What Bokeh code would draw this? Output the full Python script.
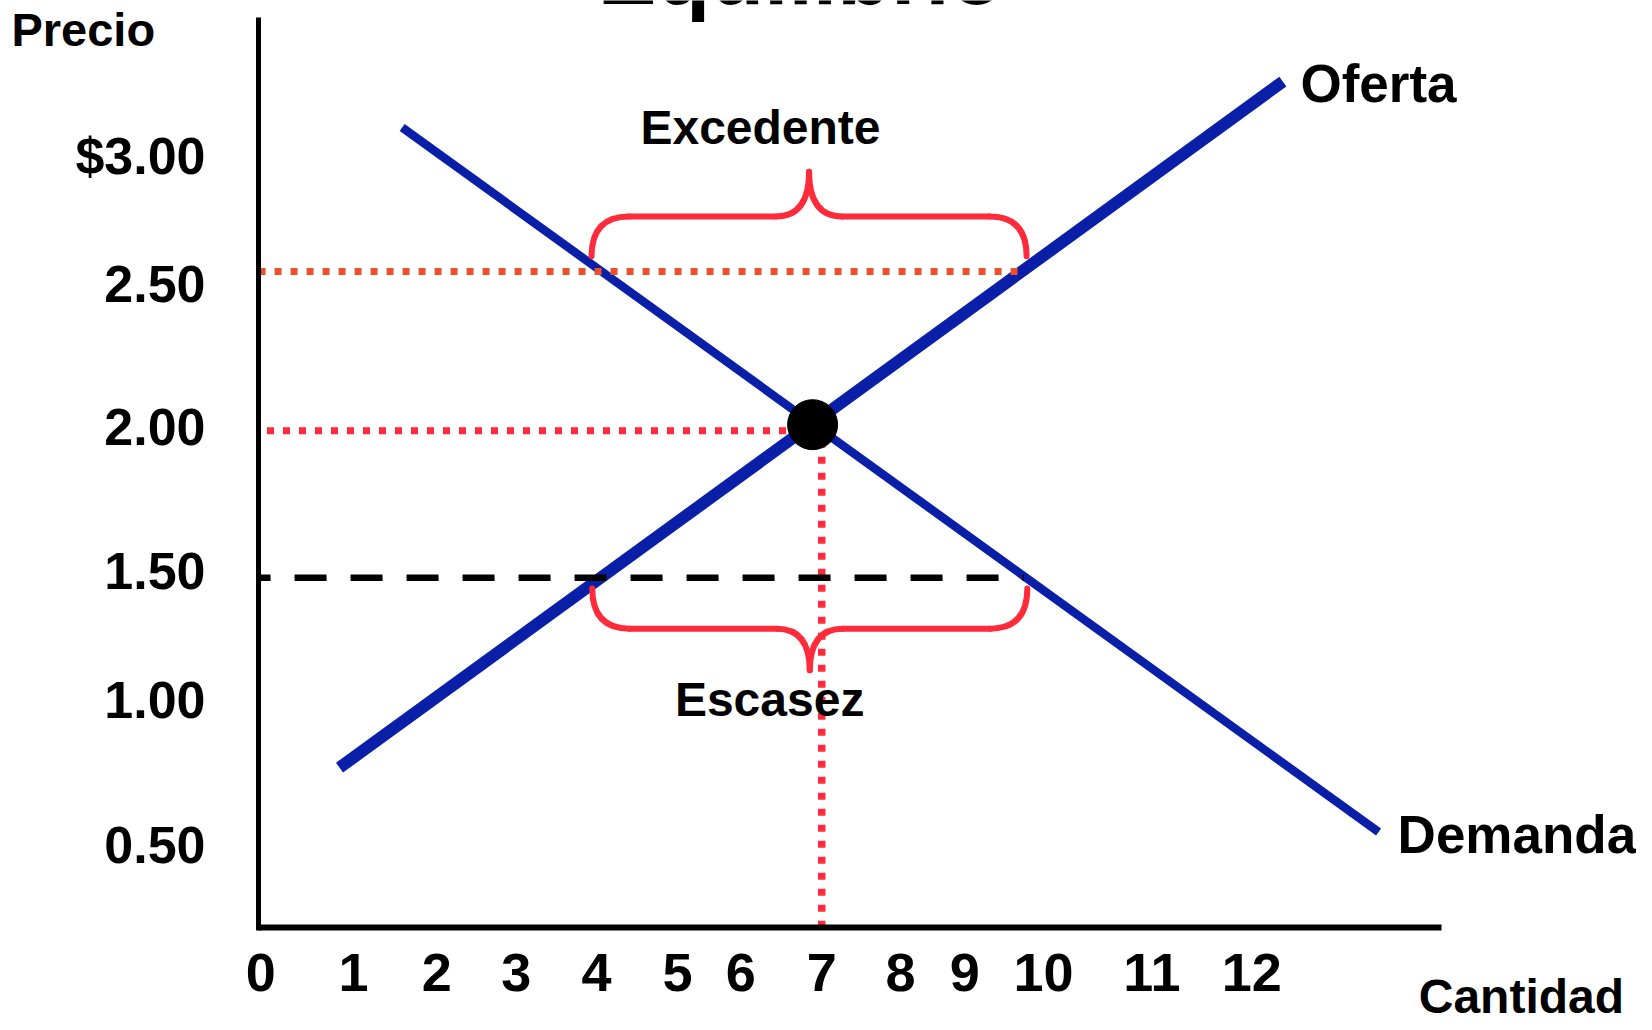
from bokeh.plotting import figure
from bokeh.models import LinearAxis, FixedTicker, Label, CustomJSTickFormatter, ColumnDataSource
from bokeh.embed import file_html
from bokeh.resources import INLINE

# ---------------- data ----------------
title_text = "Equilibrio"

supply_q = [0.28, 13.68]      # Oferta
supply_p = [0.88, 3.12]
demand_q = [1.17, 15.04]      # Demanda
demand_p = [2.97, 0.67]

eq_q = [7]
eq_p = [2.00]

surplus_price = 2.50
surplus_line_q = [-0.87, 10.0]
eq_guide_p = 1.98             # horizontal dotted guide as drawn
eq_guide_q = 7.13             # vertical dotted guide as drawn
eq_line_q = [-0.75, 7.0]
shortage_price = 1.50
shortage_line_q = [-0.87, 10.0]

# braces: [left q, right q, base p, middle p, tip p]
brace_excedente = [3.86, 10.04, 2.55, 2.68, 2.826]
brace_escasez = [3.87, 10.05, 1.465, 1.334, 1.198]

x_tick_labels = ["0", "1", "2", "3", "4", "5", "6", "7", "8", "9", "10", "11", "12"]
x_tick_pos = [-0.84, 0.48, 1.66, 2.79, 3.93, 5.08, 5.98, 7.13, 8.25, 9.16, 10.28, 11.82, 13.24]
y_tick_labels = ["$3.00", "2.50", "2.00", "1.50", "1.00", "0.50"]
y_tick_pos = [2.877, 2.459, 1.991, 1.521, 1.100, 0.629]

axis_q = [-0.87, 15.94]   # x axis extent, y axis location at first value
axis_p = [0.358, 3.33]    # y axis extent, x axis location at first value

# annotation texts: (text, q, p, align, size)
texts = [
    ("Precio", -4.38, 3.289, "left", "47px"),
    ("Excedente", 6.26, 2.969, "center", "48px"),
    ("Escasez", 6.39, 1.103, "center", "48px"),
    ("Oferta", 13.93, 3.113, "left", "53px"),
    ("Demanda", 15.31, 0.662, "left", "53px"),
    ("Cantidad", 15.61, 0.134, "left", "48px"),
]

FONT = "Liberation Sans"
BLUE = "#0A1FA8"
RED = "#FF2B3B"
ORANGE = "#E8512A"

p = figure(width=1636, height=1020, x_range=(-4.5355, 18.7035), y_range=(0.0547, 3.3848),
           x_axis_type=None, y_axis_type=None, toolbar_location=None,
           output_backend="svg", min_border=0, outline_line_color=None)
p.background_fill_color = "white"
p.border_fill_color = "white"


def make_axis(ticks, labels, loc, bounds, lw, size, standoff):
    ax = LinearAxis(fixed_location=loc, bounds=bounds, ticker=FixedTicker(ticks=ticks),
                    formatter=CustomJSTickFormatter(args=dict(pos=ticks, labs=labels), code="""
                        let best = 0, d = 1e9;
                        for (let i = 0; i < pos.length; i++) {
                            const dd = Math.abs(pos[i] - tick);
                            if (dd < d) { d = dd; best = i; }
                        }
                        return labs[best];
                    """))
    ax.axis_line_width = lw
    ax.axis_line_color = "black"
    ax.major_tick_in = 0
    ax.major_tick_out = 0
    ax.major_tick_line_color = None
    ax.minor_tick_line_color = None
    ax.major_label_text_font = FONT
    ax.major_label_text_font_style = "bold"
    ax.major_label_text_font_size = size
    ax.major_label_text_color = "black"
    ax.major_label_standoff = standoff
    return ax


xaxis = make_axis(x_tick_pos, x_tick_labels, axis_p[0], (axis_q[0], axis_q[1]), 6, "54px", 26)
yaxis = make_axis(y_tick_pos, y_tick_labels, axis_q[0], (axis_p[0] - 0.01, axis_p[1]), 5, "52px", 53)
p.add_layout(xaxis, "below")
p.add_layout(yaxis, "left")

# curves
p.line(demand_q, demand_p, line_color=BLUE, line_width=8.5)
p.line(supply_q, supply_p, line_color=BLUE, line_width=12)

# guide lines
p.line(surplus_line_q, [surplus_price] * 2, line_color=ORANGE, line_width=7, line_dash="7 9")
p.line(eq_line_q, [eq_guide_p] * 2, line_color=RED, line_width=7, line_dash="7 9")
p.line([eq_guide_q] * 2, [eq_p[0], axis_p[0]], line_color=RED, line_width=7.5, line_dash="7 9")
p.line(shortage_line_q, [shortage_price] * 2, line_color="black", line_width=6.5,
       line_dash="32 24", line_dash_offset=20)


def brace(spec, r=0.53, r2=0.47):
    q0, q1, pb, pm, pt = spec
    qc = (q0 + q1) / 2
    quad = dict(
        x0=[q0, qc - r2, qc + r2, q1],
        y0=[pb, pm, pm, pb],
        x1=[q0 + r, qc, qc, q1 - r],
        y1=[pm, pt, pt, pm],
        cx=[q0, qc, qc, q1],
        cy=[pm, pm, pm, pm],
    )
    seg = dict(x0=[q0 + r, qc + r2], y0=[pm, pm], x1=[qc - r2, q1 - r], y1=[pm, pm])
    p.quadratic(x0="x0", y0="y0", x1="x1", y1="y1", cx="cx", cy="cy",
                source=ColumnDataSource(quad), line_color=RED, line_width=6, line_cap="round")
    p.segment(x0="x0", y0="y0", x1="x1", y1="y1", source=ColumnDataSource(seg),
              line_color=RED, line_width=6, line_cap="round")


brace(brace_excedente)
brace(brace_escasez)

# equilibrium point
p.scatter(eq_q, eq_p, size=50, color="black")

for t, q, pr, al, sz in texts:
    p.add_layout(Label(x=q, y=pr, text=t, text_font=FONT, text_font_style="bold",
                       text_font_size=sz, text_align=al, text_baseline="alphabetic",
                       text_color="black"))

p.add_layout(Label(x=6.83, y=3.474, text=title_text, text_font=FONT, text_font_style="bold",
                   text_font_size="88px", text_align="center", text_baseline="alphabetic",
                   text_color="black"))

open("out.html", "w").write(file_html(p, INLINE))
